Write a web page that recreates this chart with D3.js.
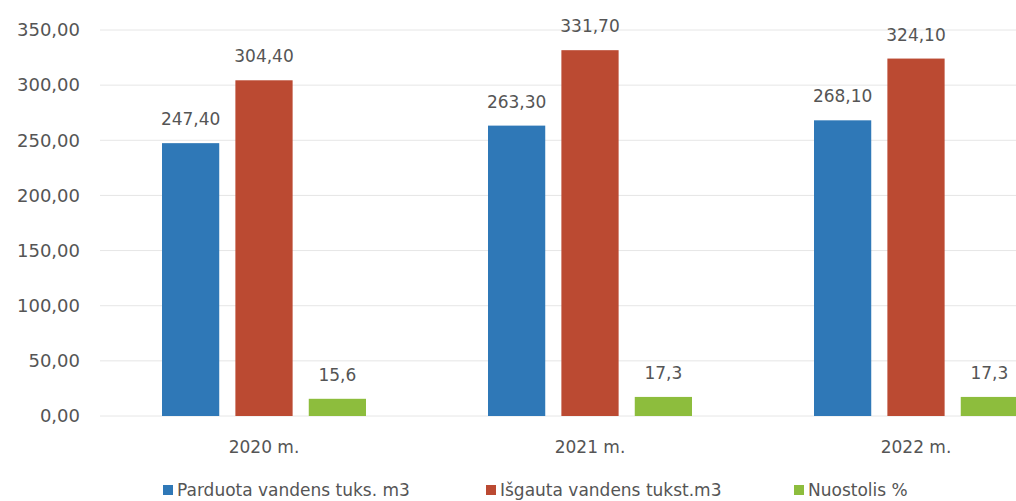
<!DOCTYPE html>
<html><head><meta charset="utf-8">
<script src="https://cdn.jsdelivr.net/npm/d3@7"></script>
<style>body{margin:0;background:#fff}svg{display:block}text{font-family:"DejaVu Sans",sans-serif;fill:#555}</style>
</head><body><svg id="c" width="1016" height="501"></svg>
<script>
const categories = ["2020 m.", "2021 m.", "2022 m."];
const seriesNames = ["Parduota vandens tuks. m3", "Išgauta vandens tukst.m3", "Nuostolis %"];
const sold = [247.4, 263.3, 268.1];
const extracted = [304.4, 331.7, 324.1];
const loss = [15.6, 17.3, 17.3];
const soldLabels = ["247,40", "263,30", "268,10"];
const extractedLabels = ["304,40", "331,70", "324,10"];
const lossLabels = ["15,6", "17,3", "17,3"];
const yTicks = [0, 50, 100, 150, 200, 250, 300, 350];
const yTickLabels = ["0,00", "50,00", "100,00", "150,00", "200,00", "250,00", "300,00", "350,00"];
const colors = ["#2f78b7", "#bb4a32", "#8dbd3d"];

const svg = d3.select("#c");
const y = d3.scaleLinear().domain([0, 350]).range([416, 30]);
const x0 = d3.scaleBand().domain(categories).range([101, 1079]).paddingInner(0).paddingOuter(0);
const x1 = d3.scaleBand().domain(seriesNames).range([61, 265]).paddingInner(0.22).paddingOuter(0);

// gridlines
svg.append("g").selectAll("line").data(yTicks).join("line")
  .attr("x1", 100).attr("x2", 1016)
  .attr("y1", d => y(d)).attr("y2", d => y(d))
  .attr("stroke", "#e6e6e6").attr("stroke-width", 1);

// y axis labels
const yAxis = d3.axisLeft(y).tickValues(yTicks).tickFormat((d, i) => yTickLabels[i]).tickSize(0).tickPadding(0);
const ga = svg.append("g").attr("transform", "translate(80,0)").call(yAxis);
ga.select(".domain").remove();
ga.selectAll("text").style("font-size", "18px").attr("fill", "#5a5a5a").attr("font-family", "DejaVu Sans");

const series = [
  {name: seriesNames[0], vals: sold, labs: soldLabels},
  {name: seriesNames[1], vals: extracted, labs: extractedLabels},
  {name: seriesNames[2], vals: loss, labs: lossLabels}
];

series.forEach((s, si) => {
  const g = svg.append("g");
  g.selectAll("rect").data(categories).join("rect")
    .attr("x", (c) => x0(c) + x1(s.name))
    .attr("width", x1.bandwidth())
    .attr("y", (c, i) => y(s.vals[i]))
    .attr("height", (c, i) => y(0) - y(s.vals[i]))
    .attr("fill", colors[si]);
  g.selectAll("text").data(categories).join("text")
    .attr("x", (c) => x0(c) + x1(s.name) + x1.bandwidth() / 2)
    .attr("y", (c, i) => y(s.vals[i]) - 18)
    .attr("text-anchor", "middle")
    .style("font-size", "17px")
    .text((c, i) => s.labs[i]);
});

// x axis labels
const xAxis = d3.axisBottom(x0).tickSize(0).tickPadding(0);
const gx = svg.append("g").attr("transform", "translate(0,441)").call(xAxis);
gx.select(".domain").remove();
gx.selectAll("text").style("font-size", "17px").attr("fill", "#5a5a5a").attr("font-family", "DejaVu Sans");

// legend
const legendX = [163, 486, 794];
const lg = svg.append("g");
seriesNames.forEach((n, i) => {
  lg.append("rect").attr("x", legendX[i]).attr("y", 485).attr("width", 10).attr("height", 10).attr("fill", colors[i]);
  lg.append("text").attr("x", legendX[i] + 14).attr("y", 496).style("font-size", "17px").text(n);
});
</script></body></html>
